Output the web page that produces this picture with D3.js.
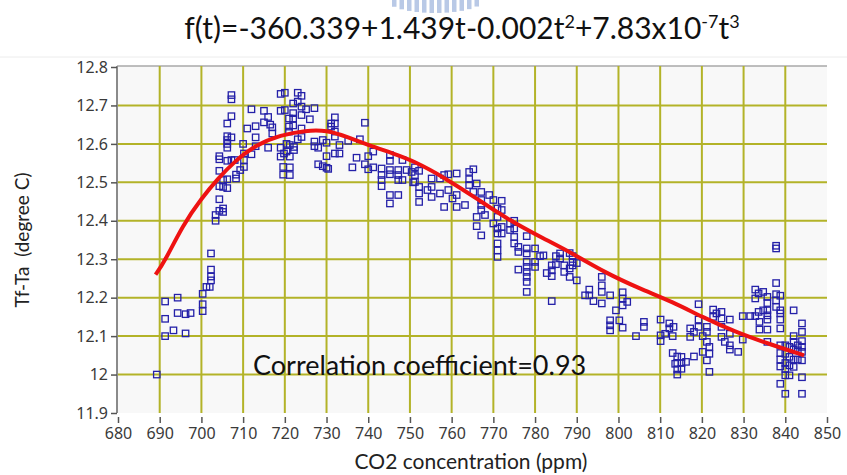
<!DOCTYPE html>
<html>
<head>
<meta charset="utf-8">
<script src="https://cdn.jsdelivr.net/npm/d3@7"></script>
<style>
  body { margin: 0; background: #fff; }
  svg { display: block; }
</style>
</head>
<body>
<svg id="chart"></svg>
<script>
// x ticks / y ticks
const xTicks = [680, 690, 700, 710, 720, 730, 740, 750, 760, 770, 780, 790, 800, 810, 820, 830, 840, 850];
const yTicks = [11.9, 12, 12.1, 12.2, 12.3, 12.4, 12.5, 12.6, 12.7, 12.8];

// measured points, CO2 (ppm)
const co2 = [
  689.3, 691.3, 694.3, 691.3, 691.3, 693.3, 694.3, 696.2, 697.4, 696.2, 700.3, 700.3, 700.3, 701.2, 702.0, 702.3, 702.3, 702.3, 702.3,
  703.4, 703.4, 704.3, 705.2, 705.2, 704.3, 704.3, 705.2, 706.2, 705.2, 706.2, 704.3, 704.3, 704.3, 706.2, 707.2, 708.0, 706.2, 706.2, 706.2, 706.2, 707.2, 706.2, 707.2, 707.2, 707.2,
  708.3, 708.3, 709.3, 710.2, 710.2, 710.2, 710.0, 711.0, 712.0, 713.0, 713.0, 712.0, 713.0, 715.0, 715.0, 716.0, 716.5, 717.0, 717.0, 716.0, 719.0, 719.0, 719.0, 719.0, 719.6, 719.6, 719.8,
  720.0, 723.1, 724.0, 722.0, 723.1, 720.0, 722.0, 724.0, 725.1, 727.1, 721.0, 722.0, 721.0, 722.0, 721.0, 724.0, 726.0, 724.0,
  720.4, 721.2, 720.4, 721.2, 722.2, 722.2, 723.1, 724.0, 721.2, 721.2,
  727.1, 727.1, 728.0, 729.1, 730.0, 733.1, 735.2, 728.0, 729.1, 730.0, 730.4, 730.0, 732.0, 733.1, 732.0, 732.0, 731.1, 732.0, 731.1, 732.0,
  739.2, 738.0, 737.2, 736.2, 739.2, 740.0, 741.2, 740.0, 741.2,
  743.2, 743.2, 743.2, 743.2, 745.2, 745.2, 747.2, 747.2, 747.2, 748.2, 749.2, 750.4, 750.8, 745.2, 745.2, 748.2, 745.2, 747.2, 745.2,
  751.2, 752.2, 751.2, 751.2, 752.2, 752.2, 752.2, 754.2, 755.2, 755.2, 755.2, 757.2, 757.2, 758.2, 758.2, 759.2, 759.2, 760.2, 761.2, 761.2, 761.2, 763.2,
  764.2, 764.2, 764.2, 765.2, 765.2, 766.0, 766.0, 766.0, 767.1, 767.1, 767.1, 767.1, 767.1, 768.0, 769.0, 770.0, 770.0,
  771.0, 771.0, 771.0, 771.0, 771.0, 771.0, 771.0, 772.0, 772.0, 772.0, 772.0, 774.0, 774.0, 775.0, 775.0, 775.0, 775.0, 776.0, 776.0,
  778.0, 778.0, 778.0, 776.0, 778.0, 778.0, 778.0, 778.0, 778.0, 778.0, 780.0, 780.0, 780.0, 781.2, 782.0,
  782.8, 784.0, 784.0, 784.0, 784.0, 785.0, 785.0, 786.0, 786.0, 787.0, 787.0, 788.3, 788.3, 788.3, 789.0, 789.0, 789.0, 790.0, 790.0,
  792.0, 793.0, 793.0, 794.0, 796.0, 796.0, 796.0, 796.0, 798.0, 798.0, 798.0, 798.0, 799.4, 800.2, 801.0, 801.0, 801.0, 801.0, 802.1,
  804.2, 806.1, 806.1, 810.1, 810.1, 810.1, 811.2, 812.2, 812.2, 813.0, 813.0, 813.6, 813.2,
  814.1, 814.1, 814.1, 814.1, 815.1, 815.1, 815.1, 816.2, 818.1, 817.2, 817.2, 818.1, 819.2, 819.2, 819.2, 820.2, 820.2,
  821.2, 821.2, 821.2, 821.2, 821.8, 821.8, 821.8, 822.7, 822.7, 823.5, 824.7, 824.7, 824.7, 824.7, 825.5,
  826.7, 826.7, 826.7, 826.7, 828.7, 829.8, 829.8, 831.6, 832.8, 832.8, 832.8, 833.6, 833.6, 833.8, 833.8, 834.7, 834.7,
  835.7, 835.7, 835.7, 835.7, 835.7, 835.7, 835.7, 837.8, 837.8, 837.8, 837.8, 837.8, 837.8,
  838.8, 838.8, 838.8, 838.8, 838.8, 838.8, 838.8, 838.8, 838.8, 838.8,
  840.0, 840.0, 840.0, 840.0, 840.0, 840.0, 841.0, 841.0, 841.0, 841.0,
  842.0, 842.0, 842.0, 842.0, 842.0, 842.0, 843.0, 843.0, 843.0,
  844.0, 844.0, 844.0, 844.0, 844.0, 844.0, 844.0, 844.0
];

// measured points, Tf-Ta (degree C)
const deltaT = [
  12.00, 12.19, 12.20, 12.145, 12.10, 12.115, 12.16, 12.157, 12.16, 12.107, 12.183, 12.165, 12.21, 12.228, 12.228, 12.245, 12.255, 12.273, 12.315,
  12.40, 12.415, 12.426, 12.423, 12.432, 12.456, 12.49, 12.488, 12.485, 12.506, 12.508, 12.53, 12.56, 12.568, 12.556, 12.558, 12.558, 12.59, 12.60, 12.61, 12.62, 12.617, 12.653, 12.672, 12.716, 12.727,
  12.52, 12.51, 12.532, 12.54, 12.558, 12.575, 12.60, 12.64, 12.69, 12.646, 12.617, 12.573, 12.594, 12.686, 12.656, 12.67, 12.65, 12.643, 12.627, 12.59, 12.73, 12.686, 12.59, 12.567, 12.54, 12.52, 12.575,
  12.733, 12.733, 12.725, 12.705, 12.71, 12.688, 12.68, 12.697, 12.69, 12.693, 12.666, 12.666, 12.645, 12.648, 12.632, 12.675, 12.664, 12.64,
  12.60, 12.597, 12.58, 12.567, 12.584, 12.592, 12.612, 12.618, 12.539, 12.519,
  12.606, 12.594, 12.59, 12.61, 12.603, 12.597, 12.608, 12.547, 12.542, 12.538, 12.535, 12.568, 12.575, 12.575, 12.619, 12.669, 12.653, 12.653, 12.645, 12.632,
  12.655, 12.612, 12.564, 12.539, 12.547, 12.568, 12.58, 12.534, 12.539,
  12.536, 12.519, 12.506, 12.49, 12.532, 12.521, 12.532, 12.519, 12.506, 12.506, 12.532, 12.527, 12.50, 12.571, 12.556, 12.558, 12.467, 12.467, 12.445,
  12.539, 12.530, 12.519, 12.501, 12.488, 12.471, 12.449, 12.480, 12.510, 12.488, 12.462, 12.510, 12.471, 12.519, 12.436, 12.521, 12.480, 12.458, 12.523, 12.436, 12.467, 12.441,
  12.527, 12.508, 12.493, 12.534, 12.475, 12.497, 12.41, 12.386, 12.362, 12.475, 12.454, 12.441, 12.428, 12.415, 12.467, 12.454, 12.393,
  12.432, 12.41, 12.38, 12.367, 12.341, 12.323, 12.306, 12.452, 12.428, 12.384, 12.367, 12.393, 12.376, 12.40, 12.38, 12.358, 12.341, 12.332, 12.319,
  12.36, 12.328, 12.315, 12.273, 12.293, 12.28, 12.267, 12.254, 12.241, 12.215, 12.328, 12.293, 12.28, 12.308, 12.31,
  12.264, 12.284, 12.271, 12.256, 12.191, 12.308, 12.287, 12.315, 12.302, 12.284, 12.267, 12.276, 12.254, 12.316, 12.308, 12.293, 12.284, 12.29, 12.245,
  12.206, 12.221, 12.206, 12.191, 12.254, 12.232, 12.215, 12.185, 12.206, 12.141, 12.128, 12.115, 12.167, 12.141, 12.214, 12.198, 12.18, 12.122, 12.189,
  12.10, 12.137, 12.124, 12.143, 12.102, 12.087, 12.106, 12.133, 12.12, 12.10, 12.056, 12.028, 12.124,
  12.047, 12.03, 12.013, 12.0, 12.046, 12.03, 12.015, 12.033, 12.047, 12.12, 12.098, 12.111, 12.183, 12.143, 12.124, 12.10, 12.059,
  12.124, 12.111, 12.085, 12.037, 12.072, 12.054, 12.007, 12.169, 12.15, 12.159, 12.163, 12.146, 12.124, 12.098, 12.085,
  12.143, 12.106, 12.076, 12.065, 12.059, 12.152, 12.091, 12.152, 12.221, 12.198, 12.152, 12.211, 12.163, 12.137, 12.117, 12.215, 12.167,
  12.202, 12.186, 12.167, 12.154, 12.143, 12.117, 12.085, 12.328, 12.335, 12.238, 12.209, 12.193, 12.176,
  12.205, 12.167, 12.159, 12.143, 12.12, 12.076, 12.056, 12.039, 12.021, 11.976,
  12.076, 12.054, 12.03, 12.015, 11.998, 11.95, 12.072, 12.046, 12.024, 11.998,
  12.167, 12.10, 12.085, 12.065, 12.039, 12.02, 12.076, 12.063, 12.039,
  12.133, 12.111, 12.087, 12.072, 12.059, 12.037, 11.993, 11.95
];

// fitted curve
const fitCo2 = [689, 691, 695.6, 700, 704, 708, 713, 719, 725, 730, 735, 740, 746, 751, 758, 766, 774, 782, 789, 797, 805, 813, 820, 828, 836, 844.5];
const fitT = [12.26, 12.29, 12.39, 12.458, 12.51, 12.555, 12.597, 12.623, 12.635, 12.636, 12.618, 12.597, 12.575, 12.555, 12.514, 12.458, 12.40, 12.354, 12.315, 12.264, 12.224, 12.189, 12.15, 12.111, 12.08, 12.05];

const W = 847, H = 475;
const plot = { left: 117, right: 827, top: 66, bottom: 413 };
const grid = "#b3b328";

const svg = d3.select("#chart").attr("width", W).attr("height", H);

const x = d3.scaleLinear().domain([680, 850]).range([118, 827]);
const y = d3.scaleLinear().domain([11.9, 12.8]).range([413, 67]);

// faint watermark at top (partial logo)
const wm = svg.append("g").attr("fill", "#b9c9e6");
d3.range(0, 12).forEach(i => {
  let cx = 392 + i * 7.5;
  let dx = (cx - 433) / 48;
  let h = Math.max(2, 13 * Math.sqrt(Math.max(0, 1 - dx * dx)));
  wm.append("rect").attr("x", cx).attr("y", 0).attr("width", 4.5).attr("height", h);
});

// frame line under title
svg.append("line")
    .attr("x1", 0).attr("x2", W).attr("y1", 57).attr("y2", 57)
    .attr("stroke", "#ececec").attr("stroke-width", 1);

// title
let title = svg.append("text")
    .attr("x", 462).attr("y", 39)
    .attr("text-anchor", "middle")
    .style("font-family", "Lato, 'Open Sans', sans-serif")
    .style("font-size", "30px")
    .style("fill", "#111");
title.append("tspan").text("f(t)=-360.339+1.439t-0.002t");
title.append("tspan").attr("dy", -11).style("font-size", "18px").text("2");
title.append("tspan").attr("dy", 11).text("+7.83x10");
title.append("tspan").attr("dy", -11).style("font-size", "18px").text("-7");
title.append("tspan").attr("dy", 11).text("t");
title.append("tspan").attr("dy", -11).style("font-size", "18px").text("3");

// plot background
svg.append("rect")
    .attr("x", plot.left).attr("y", plot.top)
    .attr("width", plot.right - plot.left).attr("height", plot.bottom - plot.top)
    .attr("fill", "#f8f8f8");

svg.append("line")
    .attr("x1", plot.left).attr("x2", plot.right)
    .attr("y1", plot.top).attr("y2", plot.top)
    .attr("stroke", "#a8a8a8").attr("stroke-width", 1.5);

// grid lines
svg.append("g").selectAll("line")
    .data(xTicks.filter(d => d > 680 && d < 850))
    .join("line")
    .attr("x1", d => x(d)).attr("x2", d => x(d))
    .attr("y1", plot.top).attr("y2", plot.bottom)
    .attr("stroke", grid).attr("stroke-width", 2);

svg.append("g").selectAll("line")
    .data(yTicks.filter(d => d > 11.95 && d < 12.75))
    .join("line")
    .attr("x1", plot.left).attr("x2", plot.right)
    .attr("y1", d => y(d)).attr("y2", d => y(d))
    .attr("stroke", grid).attr("stroke-width", 2);

// axes
let yAxisG = svg.append("g")
    .attr("transform", `translate(${plot.left},0)`)
    .call(d3.axisLeft(y).tickValues(yTicks).tickFormat(d3.format("")).tickSize(6).tickPadding(3));
yAxisG.select(".domain").attr("stroke", "#8a8a8a").attr("stroke-width", 2).attr("d", `M0,${plot.top}V${plot.bottom}`);
yAxisG.selectAll(".tick line").attr("stroke", "#555").attr("stroke-width", 1.5);
yAxisG.selectAll("text")
    .style("font-family", "'Noto Sans', sans-serif")
    .style("font-size", "16px")
    .style("fill", "#3a3a3a");

let xAxisG = svg.append("g")
    .attr("transform", `translate(0,417)`)
    .call(d3.axisBottom(x).tickValues(xTicks).tickSize(6).tickPadding(5));
xAxisG.select(".domain").remove();
xAxisG.selectAll(".tick line").attr("stroke", "#555").attr("stroke-width", 1.5);
xAxisG.selectAll("text")
    .style("font-family", "'Noto Sans', sans-serif")
    .style("font-size", "16px")
    .style("fill", "#3a3a3a");

// axis titles
svg.append("text")
    .attr("x", 471).attr("y", 469)
    .attr("text-anchor", "middle")
    .style("font-family", "Lato, 'Open Sans', sans-serif")
    .style("font-size", "21px")
    .style("fill", "#222")
    .text("CO2 concentration (ppm)");

svg.append("text")
    .attr("transform", "translate(29,240) rotate(-90)")
    .attr("text-anchor", "middle")
    .style("font-family", "Lato, 'Open Sans', sans-serif")
    .style("font-size", "19px")
    .style("fill", "#222")
    .attr("xml:space", "preserve")
    .text("Tf-Ta  (degree C)");

// scatter
let pts = co2.map((c, i) => ({ c: c, t: deltaT[i] }));
svg.append("g").selectAll("rect")
    .data(pts)
    .join("rect")
    .attr("x", d => x(d.c) - 3.2)
    .attr("y", d => y(d.t) - 3.2)
    .attr("width", 6.4).attr("height", 6.4)
    .attr("fill", "none")
    .attr("stroke", "#2420a8")
    .attr("stroke-width", 1.3);

// fitted curve
let fit = fitCo2.map((c, i) => [c, fitT[i]]);
svg.append("path")
    .datum(fit)
    .attr("fill", "none")
    .attr("stroke", "#ee1212")
    .attr("stroke-width", 4)
    .attr("d", d3.line().x(d => x(d[0])).y(d => y(d[1])).curve(d3.curveBasis));

// annotation
svg.append("text")
    .attr("x", 253).attr("y", 375)
    .style("font-family", "Lato, 'Open Sans', sans-serif")
    .style("font-size", "27px")
    .style("fill", "#111")
    .text("Correlation coefficient=0.93");
</script>
</body>
</html>
